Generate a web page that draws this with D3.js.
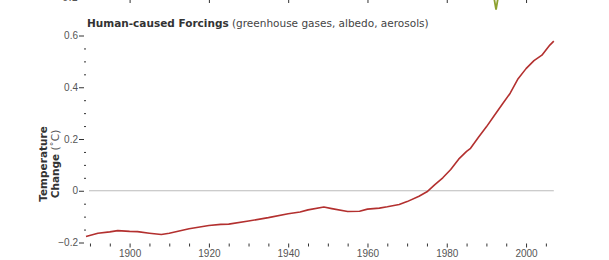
<!DOCTYPE html>
<html>
<head>
<meta charset="utf-8">
<script src="https://cdn.jsdelivr.net/npm/d3@7.9.0/dist/d3.min.js"></script>
<style>
  body { margin: 0; background: #fff; }
  svg { display: block; font-family: "DejaVu Sans", sans-serif; }
  .tick text { fill: #555; font-size: 10px; }
  .tick line { stroke: #333; }
</style>
</head>
<body>
<svg id="chart" width="609" height="260"></svg>
<script>
// human-caused forcing, temperature change (°C)
const years = [1889, 1892, 1895, 1897, 1900, 1902, 1905, 1908, 1910, 1915, 1920, 1923, 1925,
  1930, 1935, 1940, 1943, 1945, 1949, 1951, 1955, 1958, 1960, 1963, 1965, 1968, 1970, 1973,
  1975, 1977, 1979, 1981, 1983, 1985, 1986, 1988, 1990, 1992, 1994, 1996, 1998, 2000, 2002,
  2004, 2006, 2007];
const values = [-0.177, -0.164, -0.159, -0.154, -0.157, -0.158, -0.164, -0.169, -0.164, -0.147,
  -0.134, -0.130, -0.129, -0.117, -0.104, -0.089, -0.082, -0.074, -0.063, -0.069, -0.080,
  -0.079, -0.071, -0.067, -0.062, -0.053, -0.042, -0.021, -0.004, 0.024, 0.050, 0.082, 0.122,
  0.152, 0.164, 0.207, 0.247, 0.291, 0.334, 0.377, 0.433, 0.472, 0.503, 0.524, 0.563, 0.578];

// bit of the panel above that sticks into view (volcanic dip)
const volcYears = [1991.6, 1992.43, 1993.25];
const volcValues = [-0.17, -0.245, -0.17];

const yTicks = [-0.2, 0, 0.2, 0.4, 0.6];
const xTickLabels = [1900, 1920, 1940, 1960, 1980, 2000];

const svg = d3.select("#chart");

let x = d3.scaleLinear().domain([1889, 2007]).range([86, 553.8]);
let y = d3.scaleLinear().domain([-0.2, 0.6]).range([242.5, 35.5]);
let yTop = d3.scaleLinear().domain([-0.2, 0.6]).range([-2, -209]);

// ---- panel above (cut off) ----
let topAxis = svg.append("g")
  .attr("transform", `translate(0,${yTop(-0.2)})`)
  .call(d3.axisBottom(x).tickValues(xTickLabels).tickSize(5).tickFormat(""));
topAxis.select(".domain").remove();
svg.append("text")
  .attr("x", 78).attr("y", yTop(-0.2)).attr("dy", "0.32em")
  .attr("text-anchor", "end").attr("fill", "#555").attr("font-size", 10)
  .text("0.2");
svg.append("path")
  .datum(volcYears.map((d, i) => [d, volcValues[i]]))
  .attr("fill", "none").attr("stroke", "#8da12e").attr("stroke-width", 1.8)
  .attr("d", d3.line().x(d => x(d[0])).y(d => yTop(d[1])));

// ---- y axis ----
let minorY = d3.range(-0.2, 0.601, 0.05).map(d => Math.round(d * 100) / 100)
  .filter(d => !yTicks.includes(d));
let yMinor = svg.append("g")
  .attr("transform", "translate(86,0)")
  .call(d3.axisLeft(y).tickValues(minorY).tickSize(2).tickFormat(""));
yMinor.select(".domain").remove();

let yAxis = svg.append("g")
  .attr("transform", "translate(84,0)")
  .call(d3.axisLeft(y).tickValues(yTicks).tickSize(5).tickPadding(1)
    .tickFormat(d => d === 0 ? "0" : d3.format(".1f")(d)));
yAxis.select(".domain").remove();

// zero line
svg.append("line")
  .attr("x1", x(1889) + 3).attr("x2", x(2007))
  .attr("y1", y(0)).attr("y2", y(0))
  .attr("stroke", "#bbb").attr("stroke-width", 1);

// ---- x axis ----
let minorX = d3.range(1890, 2006, 5).filter(d => !xTickLabels.includes(d));
let xMinor = svg.append("g")
  .attr("transform", `translate(0,${y(-0.2) + 1})`)
  .call(d3.axisBottom(x).tickValues(minorX).tickSize(3).tickFormat(""));
xMinor.select(".domain").remove();

let xAxis = svg.append("g")
  .attr("transform", `translate(0,${y(-0.2) + 1})`)
  .call(d3.axisBottom(x).tickValues(xTickLabels).tickSize(4).tickPadding(2)
    .tickFormat(d3.format("d")));
xAxis.select(".domain").remove();

// ---- data line ----
svg.append("path")
  .datum(years.map((d, i) => [d, values[i]]))
  .attr("fill", "none")
  .attr("stroke", "#b3302f")
  .attr("stroke-width", 1.6)
  .attr("stroke-linejoin", "round")
  .attr("d", d3.line().x(d => x(d[0])).y(d => y(d[1])));

// ---- title ----
let title = svg.append("text")
  .attr("x", 87).attr("y", 27)
  .attr("font-size", 10.5).attr("fill", "#333");
title.append("tspan").attr("font-weight", "bold").text("Human-caused Forcings");
title.append("tspan").attr("fill", "#444").text(" (greenhouse gases, albedo, aerosols)");

// ---- y label ----
let yLab = svg.append("g").attr("transform", "translate(0,164) rotate(-90)");
yLab.append("text")
  .attr("x", 0).attr("y", 47)
  .attr("text-anchor", "middle").attr("font-size", 10.5)
  .attr("font-weight", "bold").attr("fill", "#333")
  .text("Temperature");
let l2 = yLab.append("text")
  .attr("x", 0).attr("y", 59)
  .attr("text-anchor", "middle").attr("font-size", 10.5).attr("fill", "#333");
l2.append("tspan").attr("font-weight", "bold").text("Change");
l2.append("tspan").attr("fill", "#555").text(" (˚C)");
</script>
</body>
</html>
